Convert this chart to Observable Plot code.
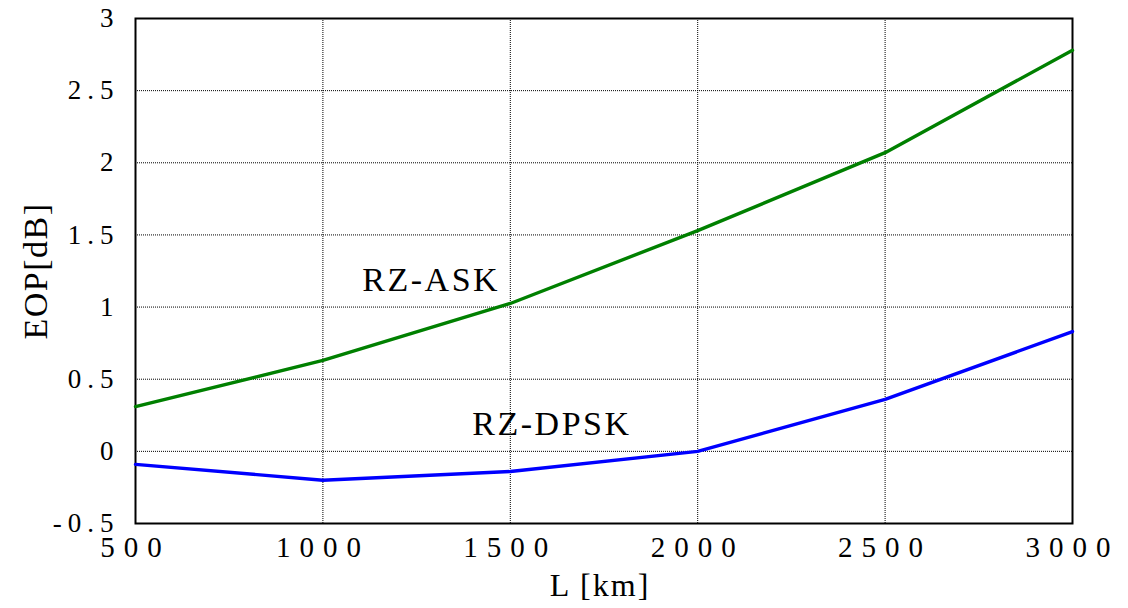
<!DOCTYPE html>
<html>
<head>
<meta charset="utf-8">
<script src="https://cdn.jsdelivr.net/npm/d3@7"></script>
<script src="https://cdn.jsdelivr.net/npm/@observablehq/plot@0.6"></script>
<style>
  html, body { margin: 0; padding: 0; background: #fff; }
  #chart svg { font-family: "Liberation Serif", "Times New Roman", serif; }
  #chart svg [aria-label="x-axis tick label"] text { letter-spacing: 9px; }
  #chart svg [aria-label="y-axis tick label"] text { letter-spacing: 6px; }
  #chart svg [aria-label="x-axis label"] text { letter-spacing: 2px; }
  #chart svg [aria-label="y-axis label"] text { letter-spacing: 1.5px; }
  #chart svg [aria-label="text"] text { letter-spacing: 2.5px; }
</style>
</head>
<body>
<div id="chart"></div>
<script>
const distances = [500, 1000, 1500, 2000, 2500, 3000];
const askValues = [0.31, 0.63, 1.025, 1.53, 2.07, 2.78];
const dpskValues = [-0.09, -0.20, -0.14, 0.0, 0.36, 0.83];
const xTicks = [500, 1000, 1500, 2000, 2500, 3000];
const yTicks = [-0.5, 0, 0.5, 1, 1.5, 2, 2.5, 3];
const seriesLabels = ["RZ-ASK", "RZ-DPSK"];
const labelX = [1289, 1611];
const labelY = [1.185, 0.187];

const ask = distances.map((d, i) => ({x: d, y: askValues[i]}));
const dpsk = distances.map((d, i) => ({x: d, y: dpskValues[i]}));
const labels = seriesLabels.map((t, i) => ({t, x: labelX[i], y: labelY[i]}));

const chart = Plot.plot({
  width: 1128,
  height: 608,
  marginLeft: 135,
  marginRight: 56,
  marginTop: 18,
  marginBottom: 85,
  style: {fontFamily: '"Liberation Serif", "Times New Roman", serif', background: "#fff"},
  x: {domain: [500, 3000]},
  y: {domain: [-0.5, 3]},
  marks: [
    Plot.gridX(xTicks, {stroke: "#000", strokeOpacity: 1, strokeWidth: 1, strokeDasharray: "1,1"}),
    Plot.gridY(yTicks, {stroke: "#000", strokeOpacity: 1, strokeWidth: 1, strokeDasharray: "1,1"}),
    Plot.frame({stroke: "#000", strokeWidth: 2}),
    Plot.axisX(xTicks, {
      tickSize: 0, tickPadding: 13, fontSize: 29, fill: "#000",
      tickFormat: d => String(d), label: "L [km]", labelAnchor: "center",
      labelOffset: 72, labelArrow: "none"
    }),
    Plot.axisY(yTicks, {
      tickSize: 0, tickPadding: 16, fontSize: 27, fill: "#000",
      tickFormat: d => String(d), label: "EOP[dB]", labelAnchor: "center",
      labelOffset: 113, labelArrow: "none"
    }),
    Plot.line(ask, {x: "x", y: "y", stroke: "#008000", strokeWidth: 3.4}),
    Plot.line(dpsk, {x: "x", y: "y", stroke: "#0000ff", strokeWidth: 3.4}),
    Plot.text(labels, {x: "x", y: "y", text: "t", fontSize: 34, fill: "#000", textAnchor: "middle"})
  ]
});

d3.select(chart).selectAll('[aria-label="x-axis label"] text')
  .style("font-size", "32px").attr("fill", "#000").attr("dx", -4);
d3.select(chart).selectAll('[aria-label="y-axis label"] text')
  .style("font-size", "34px").attr("fill", "#000");
document.getElementById("chart").appendChild(chart);
</script>
</body>
</html>
